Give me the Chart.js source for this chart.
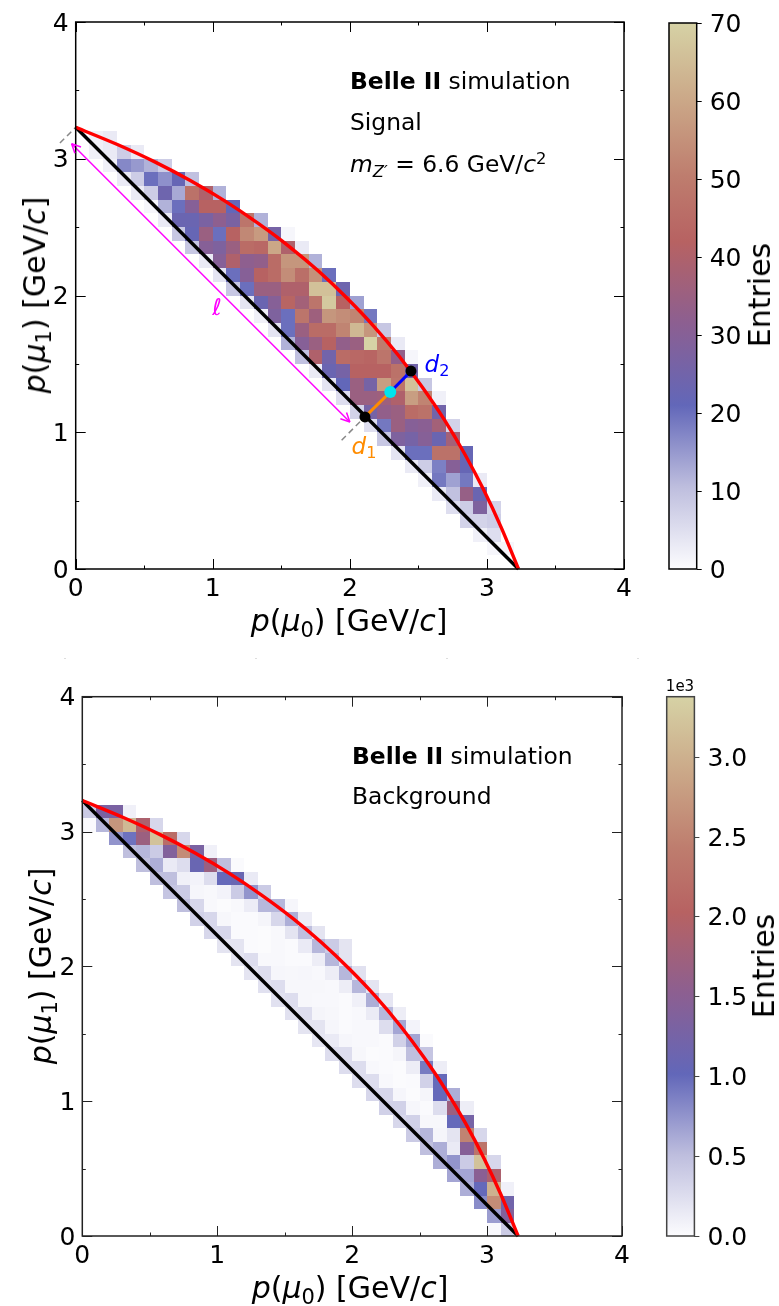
<!DOCTYPE html>
<html>
<head>
<meta charset="utf-8">
<title>Belle II simulation</title>
<script src="https://cdn.jsdelivr.net/npm/chart.js@4"></script>
<style>
    html, body { margin: 0; padding: 0; background: #fff; }
    #page { position: relative; width: 779px; height: 1306px; overflow: hidden; font-family: "DejaVu Sans", sans-serif; color: #000; }
    canvas { position: absolute; }
    .txt { position: absolute; white-space: nowrap; line-height: 1; transform: translateY(-50%); }
    .mid { transform: translate(-50%, -50%); }
    .rot { transform: translate(-50%, -50%) rotate(-90deg); }
    .axis { font-size: 30px; }
    .note { font-size: 23.4px; }
    .speck { position: absolute; top: 658px; width: 2px; height: 1px; background: #ddd; }
    sub, sup { font-size: 70%; line-height: 0; }
    sub { vertical-align: -0.28em; }
    sup { vertical-align: 0.5em; }
</style>
</head>
<body>
<div id="page">
    <canvas id="signalChart" width="650" height="640" style="left:0;top:0"></canvas>
    <canvas id="signalBar" width="110" height="640" style="left:650px;top:0"></canvas>
    <canvas id="backgroundChart" width="650" height="656" style="left:0;top:650px"></canvas>
    <canvas id="backgroundBar" width="110" height="656" style="left:650px;top:650px"></canvas>

    <span class="txt mid axis" style="left:349px;top:621px"><i>p</i>(<i>μ</i><sub>0</sub>) [GeV/<i>c</i>]</span>
    <span class="txt rot axis" style="left:35px;top:295px"><i>p</i>(<i>μ</i><sub>1</sub>) [GeV/<i>c</i>]</span>
    <span class="txt rot axis" style="left:760px;top:295px">Entries</span>
    <span class="txt note" style="left:350px;top:82px"><b>Belle II</b> simulation</span>
    <span class="txt note" style="left:350px;top:123px">Signal</span>
    <span class="txt note" style="left:350px;top:165px"><i>m</i><sub><i>Z′</i></sub> = 6.6 GeV/<i>c</i><sup>2</sup></span>
    <span class="txt mid" style="left:217px;top:307px;font-size:23px;color:#ff00ff"><i>ℓ</i></span>
    <span class="txt mid" style="left:364px;top:446px;font-size:23px;color:#ff8c00"><i>d</i><sub>1</sub></span>
    <span class="txt mid" style="left:437px;top:364px;font-size:23px;color:#0000ff"><i>d</i><sub>2</sub></span>

    <span class="txt mid axis" style="left:350px;top:1288px"><i>p</i>(<i>μ</i><sub>0</sub>) [GeV/<i>c</i>]</span>
    <span class="txt rot axis" style="left:41px;top:966px"><i>p</i>(<i>μ</i><sub>1</sub>) [GeV/<i>c</i>]</span>
    <span class="txt rot axis" style="left:764px;top:966px">Entries</span>
    <span class="txt note" style="left:352px;top:757px"><b>Belle II</b> simulation</span>
    <span class="txt note" style="left:352px;top:797px">Background</span>
    <span class="txt mid" style="left:680px;top:686px;font-size:15px">1e3</span>

    <div class="speck" style="left:64px"></div>
    <div class="speck" style="left:255px"></div>
    <div class="speck" style="left:446px"></div>
    <div class="speck" style="left:637px"></div>
</div>

<script>
// histogram bins are 0.1 GeV/c wide, rows go from the top bin downwards
const binWidth = 0.1;
const topRow = 31;

// signal: first filled column of each row, then entries in that row
const signalFirst = [1, 1, 2, 3, 4, 5, 6, 7, 8, 9, 10, 11, 12, 13, 14, 15, 16, 17, 18, 19, 20, 21, 22, 23, 24, 25, 26, 27, 28, 29, 30];
const signalRows = [
    [2, 3],
    [2, 3, 8, 3],
    [2, 17, 15, 12, 8],
    [3, 8, 20, 16, 22, 10],
    [3, 8, 24, 13, 47, 40, 12],
    [1, 12, 20, 30, 42, 42, 21],
    [3, 23, 23, 27, 32, 27, 48, 12],
    [9, 22, 35, 20, 42, 53, 57, 26, 1],
    [9, 30, 28, 35, 45, 44, 60, 40, 3],
    [3, 30, 40, 32, 33, 45, 56, 56, 12],
    [4, 20, 30, 42, 45, 54, 46, 55, 20],
    [9, 20, 35, 35, 40, 40, 66, 66, 24],
    [4, 23, 30, 43, 37, 48, 68, 42, 14],
    [2, 28, 20, 48, 36, 56, 54, 52, 19],
    [4, 20, 35, 45, 45, 52, 64, 56, 9],
    [12, 30, 35, 42, 33, 35, 70, 50, 3],
    [10, 40, 25, 45, 44, 43, 48, 33, 1],
    [3, 23, 26, 42, 42, 42, 47, 25],
    [4, 21, 35, 26, 58, 48, 66, 9],
    [5, 35, 35, 36, 40, 58, 52, 2],
    [7, 26, 33, 35, 45, 47, 25],
    [5, 19, 35, 30, 31, 37, 7],
    [9, 28, 26, 30, 23, 37],
    [4, 20, 20, 47, 47, 22],
    [3, 8, 18, 30, 22],
    [2, 19, 14, 19, 3],
    [3, 10, 34, 23],
    [5, 8, 28, 7],
    [7, 7, 8],
    [2, 5],
    [1, 1]
];

// background, entries in units of 1e3
const backgroundFirst = [0, 0, 2, 3, 4, 5, 6, 7, 8, 9, 10, 11, 12, 13, 14, 15, 16, 17, 18, 19, 20, 21, 22, 23, 24, 25, 26, 27, 28, 29, 30, 30];
const backgroundRows = [
    [0.4, 1.3, 1.3, 0.1],
    [0.02, 0.55, 2.7, 3.1, 1.9, 0.3],
    [0.75, 0.95, 1.7, 3.2, 2.2, 0.3],
    [0.5, 0.55, 0.4, 1.4, 2.6, 1.3, 0.1],
    [0.5, 0.6, 0.15, 0.25, 1.1, 1.7, 0.5, 0.02],
    [0.5, 0.5, 0.1, 0.07, 0.25, 1.0, 1.1, 0.15],
    [0.45, 0.4, 0.05, 0.03, 0.07, 0.4, 0.75, 0.4],
    [0.5, 0.3, 0.03, 0.01, 0.03, 0.13, 0.55, 0.55, 0.05],
    [0.35, 0.3, 0.04, 0.02, 0.02, 0.06, 0.3, 0.6, 0.13],
    [0.3, 0.3, 0.02, 0.02, 0.01, 0.03, 0.2, 0.5, 0.2],
    [0.2, 0.2, 0.02, 0.01, 0.03, 0.02, 0.15, 0.55, 0.4, 0.2],
    [0.2, 0.25, 0.03, 0.03, 0.02, 0.02, 0.12, 0.55, 0.2],
    [0.2, 0.25, 0.05, 0.04, 0.05, 0.03, 0.12, 0.55, 0.22],
    [0.22, 0.25, 0.04, 0.04, 0.04, 0.03, 0.12, 0.55, 0.2],
    [0.22, 0.25, 0.04, 0.03, 0.03, 0.02, 0.1, 0.6, 0.18],
    [0.22, 0.25, 0.06, 0.04, 0.02, 0.03, 0.14, 0.55, 0.12],
    [0.2, 0.2, 0.05, 0.02, 0.03, 0.03, 0.25, 0.65, 0.07],
    [0.18, 0.15, 0.05, 0.03, 0.03, 0.02, 0.35, 0.65, 0.02],
    [0.25, 0.25, 0.04, 0.01, 0.02, 0.06, 0.5, 0.45],
    [0.25, 0.25, 0.03, 0.02, 0.01, 0.12, 0.9, 0.12],
    [0.25, 0.25, 0.03, 0.01, 0.02, 0.35, 1.0],
    [0.3, 0.3, 0.05, 0.01, 0.06, 1.0, 0.6],
    [0.35, 0.35, 0.05, 0.02, 0.25, 1.7, 0.12],
    [0.3, 0.35, 0.04, 0.04, 1.0, 1.25],
    [0.4, 0.55, 0.06, 0.2, 2.5, 0.3],
    [0.5, 0.6, 0.15, 1.45, 2.3],
    [0.6, 0.75, 0.4, 3.2, 0.3],
    [0.65, 0.65, 1.5, 1.9],
    [0.6, 1.0, 3.0, 0.1],
    [0.8, 2.6, 1.2],
    [0.7, 1.4],
    [0.03, 0.4]
];

// kinematic boundary and the diagonal
const boundaryP0 = [0, 0.304, 0.577, 0.839, 1.09, 1.329, 1.558, 1.775, 1.98, 2.175, 2.358, 2.529, 2.69, 2.839, 2.977, 3.104, 3.23];
const boundaryP1 = [3.23, 3.104, 2.977, 2.839, 2.69, 2.529, 2.358, 2.175, 1.98, 1.775, 1.558, 1.329, 1.09, 0.839, 0.577, 0.304, 0];
const diagonalP0 = [0, 3.23];
const diagonalP1 = [3.23, 0];

// construction drawn on the signal panel
const dashP0 = [-0.115, 0];
const dashP1 = [3.115, 3.23];
const dash2P0 = [1.94, 2.11];
const dash2P1 = [0.942, 1.112];
const arrowP0 = [-0.03, 2.0];
const arrowP1 = [3.11, 1.075];
const d1P0 = [2.11, 2.295];
const d1P1 = [1.112, 1.294];
const d2P0 = [2.295, 2.446];
const d2P1 = [1.294, 1.447];
const blackDotsP0 = [2.11, 2.446];
const blackDotsP1 = [1.112, 1.447];
const cyanDotP0 = [2.295];
const cyanDotP1 = [1.294];

const axisMin = 0;
const axisMax = 4;
const signalMax = 70;
const backgroundMax = 3.38;

const colourStops = [
    [0, [252, 252, 254]],
    [0.15, [190, 190, 222]],
    [0.3, [98, 103, 185]],
    [0.45, [140, 95, 145]],
    [0.6, [183, 98, 98]],
    [0.72, [190, 125, 110]],
    [0.86, [203, 168, 136]],
    [1, [214, 210, 165]]
];

function colourFor(t) {
    t = Math.min(1, Math.max(0, t));
    for (let i = 1; i < colourStops.length; i++) {
        if (t <= colourStops[i][0]) {
            const a = colourStops[i - 1], b = colourStops[i];
            const f = (t - a[0]) / (b[0] - a[0]);
            const c = a[1].map((v, k) => Math.round(v + (b[1][k] - v) * f));
            return `rgb(${c[0]},${c[1]},${c[2]})`;
        }
    }
}

function pairs(xs, ys) {
    return xs.map((x, i) => ({ x: x, y: ys[i] }));
}

function lineSet(xs, ys, colour, width, order, extra) {
    return Object.assign({
        data: pairs(xs, ys), showLine: true, borderColor: colour, borderWidth: width,
        pointRadius: 0, clip: false, order: order, borderCapStyle: 'butt'
    }, extra || {});
}

// heatmap cells, ticks and frame, all placed through the chart's scales
const heatmap = {
    id: 'heatmap',
    beforeDatasetsDraw(chart, args, opts) {
        const { ctx, scales: { x, y } } = chart;
        opts.rows.forEach((row, r) => {
            const j = topRow - r;
            row.forEach((v, c) => {
                const i = opts.first[r] + c;
                const x0 = Math.round(x.getPixelForValue(i * binWidth));
                const x1 = Math.round(x.getPixelForValue((i + 1) * binWidth));
                const y0 = Math.round(y.getPixelForValue((j + 1) * binWidth));
                const y1 = Math.round(y.getPixelForValue(j * binWidth));
                ctx.fillStyle = colourFor(v / opts.max);
                ctx.fillRect(x0, y0, x1 - x0, y1 - y0);
            });
        });
    },
    afterDraw(chart, args, opts) {
        const { ctx, chartArea: a, scales: { x, y } } = chart;
        ctx.save();
        ctx.strokeStyle = opts.frame;
        ctx.lineWidth = 1;
        ctx.beginPath();
        x.ticks.forEach(t => {
            const len = Number.isInteger(t.value) ? 10 : 3.5;
            const px = Math.round(x.getPixelForValue(t.value)) + 0.5;
            ctx.moveTo(px, a.bottom); ctx.lineTo(px, a.bottom - len);
            ctx.moveTo(px, a.top); ctx.lineTo(px, a.top + len);
        });
        y.ticks.forEach(t => {
            const len = Number.isInteger(t.value) ? 10 : 3.5;
            const py = Math.round(y.getPixelForValue(t.value)) + 0.5;
            ctx.moveTo(a.left, py); ctx.lineTo(a.left + len, py);
            ctx.moveTo(a.right, py); ctx.lineTo(a.right - len, py);
        });
        ctx.stroke();
        ctx.lineWidth = 1.5;
        ctx.strokeRect(a.left, a.top, a.right - a.left, a.bottom - a.top);
        // arrow heads on the l marker
        if (opts.arrow) {
            const p = opts.arrow.map(q => [x.getPixelForValue(q.x), y.getPixelForValue(q.y)]);
            ctx.strokeStyle = '#ff00ff';
            ctx.lineWidth = 1.5;
            [[p[0], p[1]], [p[1], p[0]]].forEach(([tip, from]) => {
                const ang = Math.atan2(from[1] - tip[1], from[0] - tip[0]);
                [-0.45, 0.45].forEach(d => {
                    ctx.beginPath();
                    ctx.moveTo(tip[0], tip[1]);
                    ctx.lineTo(tip[0] + 10 * Math.cos(ang + d), tip[1] + 10 * Math.sin(ang + d));
                    ctx.stroke();
                });
            });
        }
        ctx.restore();
    }
};

function mainChart(id, rows, first, max, datasets, area, frame, arrow) {
    const tickFont = { family: '"DejaVu Sans"', size: 25 };
    const axis = (extra, pad, offset) => Object.assign({
        type: 'linear', min: axisMin, max: axisMax,
        grid: { display: false, drawTicks: false }, border: { display: false },
        ticks: {
            stepSize: 0.5, autoSkip: false, maxRotation: 0, color: '#000', font: tickFont,
            padding: pad, labelOffset: offset,
            callback: v => Number.isInteger(v) ? String(v) : ''
        }
    }, extra);
    return new Chart(document.getElementById(id), {
        type: 'scatter',
        data: { datasets: datasets },
        options: {
            responsive: false,
            animation: false,
            layout: { padding: { top: area.top, right: area.right, left: 0, bottom: 0 } },
            scales: {
                x: axis({ position: 'bottom', afterFit(s) { s.height = area.bottomGap; } }, 5, 0),
                y: axis({ position: 'left', afterFit(s) { s.width = area.left; } }, 7, 2)
            },
            plugins: {
                legend: { display: false },
                tooltip: { enabled: false },
                heatmap: { rows: rows, first: first, max: max, frame: frame, arrow: arrow }
            }
        },
        plugins: [heatmap]
    });
}

// colour bars are one floating bar filled with the colour scale
function barChart(id, max, step, digits, area, frame) {
    return new Chart(document.getElementById(id), {
        type: 'bar',
        data: {
            labels: ['Entries'],
            datasets: [{
                data: [[0, max]],
                barPercentage: 1,
                categoryPercentage: 1,
                borderWidth: 0,
                backgroundColor(ctx) {
                    const a = ctx.chart.chartArea;
                    if (!a) return '#ccc';
                    const g = ctx.chart.ctx.createLinearGradient(0, a.bottom, 0, a.top);
                    colourStops.forEach(s => g.addColorStop(s[0], colourFor(s[0])));
                    return g;
                }
            }]
        },
        options: {
            responsive: false,
            animation: false,
            layout: { padding: { top: area.top, left: area.left, right: 0, bottom: area.bottom } },
            scales: {
                x: { display: false },
                y: {
                    position: 'right', min: 0, max: max,
                    afterFit(s) { s.width = area.axis; },
                    border: { display: false },
                    grid: { drawOnChartArea: false, drawTicks: true, tickLength: 5, color: frame },
                    ticks: {
                        stepSize: step, includeBounds: false, color: '#000', padding: 8, labelOffset: 2,
                        font: { family: '"DejaVu Sans"', size: 25 },
                        callback: v => v.toFixed(digits)
                    }
                }
            },
            plugins: { legend: { display: false }, tooltip: { enabled: false } }
        },
        plugins: [{
            id: 'barFrame',
            afterDraw(chart) {
                const { ctx, chartArea: a } = chart;
                ctx.save();
                ctx.strokeStyle = frame;
                ctx.lineWidth = 1.5;
                ctx.strokeRect(a.left, a.top, a.right - a.left, a.bottom - a.top);
                ctx.restore();
            }
        }]
    });
}

const boundaryStyle = { cubicInterpolationMode: 'monotone' };

mainChart('signalChart', signalRows, signalFirst, signalMax, [
    lineSet(blackDotsP0, blackDotsP1, '#000', 0, 0, { showLine: false, pointRadius: 5.5, pointBackgroundColor: '#000', pointBorderWidth: 0 }),
    lineSet(cyanDotP0, cyanDotP1, '#00ffff', 0, 0, { showLine: false, pointRadius: 6, pointBackgroundColor: '#00e5ee', pointBorderWidth: 0 }),
    lineSet(d1P0, d1P1, '#ff8c00', 3, 1),
    lineSet(d2P0, d2P1, '#0000ff', 3, 1),
    lineSet(boundaryP0, boundaryP1, '#ff0000', 3.4, 2, boundaryStyle),
    lineSet(diagonalP0, diagonalP1, '#000', 3.4, 3),
    lineSet(arrowP0, arrowP1, '#ff00ff', 1.5, 4),
    lineSet(dashP0, dashP1, '#888', 1.5, 4, { borderDash: [6, 4] }),
    lineSet(dash2P0, dash2P1, '#888', 1.5, 4, { borderDash: [6, 4] })
], { left: 75.7, top: 21.3, right: 26, bottomGap: 71 }, '#000', pairs(arrowP0, arrowP1));

mainChart('backgroundChart', backgroundRows, backgroundFirst, backgroundMax, [
    lineSet(boundaryP0, boundaryP1, '#ff0000', 3.4, 2, boundaryStyle),
    lineSet(diagonalP0, diagonalP1, '#000', 3.4, 3)
], { left: 82.3, top: 46.7, right: 28, bottomGap: 70 }, '#222');

barChart('signalBar', signalMax, 10, 0, { top: 21.3, left: 19, bottom: 71, axis: 63.3 }, '#000');
barChart('backgroundBar', backgroundMax, 0.5, 1, { top: 46.7, left: 16.7, bottom: 70, axis: 65.6 }, '#444');
</script>
</body>
</html>
